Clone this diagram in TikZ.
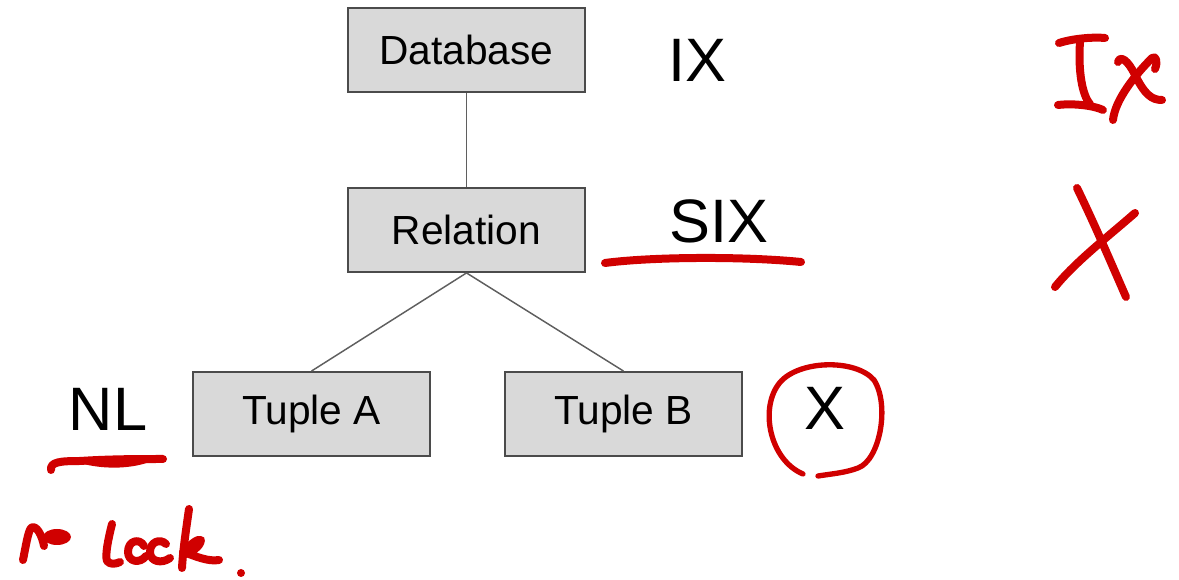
\documentclass[tikz,border=0pt]{standalone}
\usepackage{fontspec}
\setmainfont{Liberation Sans}
\begin{document}
\begin{tikzpicture}[x=0.75pt,y=-0.75pt,
  boxnode/.style={draw=boxline, fill=boxfill, line width=1.4pt,
    minimum width=177.75pt, minimum height=63pt, inner sep=0pt,
    font=\fontsize{30.5}{34}\selectfont},
  lockmode/.style={inner sep=0pt, font=\fontsize{46}{50}\selectfont},
  edge/.style={draw=edgeline, line width=1.1pt},
  ink/.style={draw=inkred, line width=6pt, line cap=round, line join=round},
  thinink/.style={draw=inkred, line width=4pt, line cap=round, line join=round}]
\definecolor{boxfill}{RGB}{217,217,217}
\definecolor{boxline}{RGB}{75,75,75}
\definecolor{edgeline}{RGB}{95,95,95}
\definecolor{inkred}{RGB}{208,0,0}
\useasboundingbox (0,0) rectangle (1179,580);

% hierarchy of lockable objects
\node[boxnode] (db)  at (466.5,50)  {Database};
\node[boxnode] (rel) at (466.5,230) {Relation};
\node[boxnode] (ta)  at (311.5,414) {Tuple A};
\node[boxnode] (tb)  at (623.5,414) {Tuple B};

\draw[edge] (db.south) -- (rel.north);
\draw[edge] (rel.south) -- (ta.north);
\draw[edge] (rel.south) -- (tb.north);

% lock modes held at each level
\node[lockmode] (ix)  at (697,60)  {IX};
\node[lockmode] (six) at (719,221) {SIX};
\node[lockmode] (nl)  at (108,409) {NL};
\node[lockmode] (x)   at (825,408) {X};

% handwritten marks
\draw[ink] (605,263) .. controls (650,257) and (740,256) .. (801,262);
\draw[ink] (51,470) .. controls (50,462) and (60,461) .. (80,461)
  .. controls (110,459) and (140,459) .. (163,459);
\fill[inkred] (80,459) .. controls (110,455) and (140,455) .. (152,461)
  .. controls (130,470) and (100,469) .. (80,463) -- cycle;
\draw[thinink] (803,474) .. controls (770,460) and (760,410) .. (778,385)
  .. controls (795,360) and (855,358) .. (874,380)
  .. controls (890,405) and (880,460) .. (858,468)
  .. controls (845,473) and (830,474) .. (818,476);

% "Ix"
\draw[ink] (1059,43) .. controls (1075,38) and (1095,37) .. (1105,38);
\draw[ink] (1080,42) .. controls (1078,70) and (1082,95) .. (1090,104);
\draw[ink] (1058,105) .. controls (1075,103) and (1095,106) .. (1103,110);
\draw[ink] (1118,62) .. controls (1120,55) and (1128,60) .. (1135,75)
  .. controls (1145,95) and (1152,100) .. (1162,100);
\draw[ink] (1155,69) .. controls (1158,62) and (1156,55) .. (1152,58)
  .. controls (1135,75) and (1115,100) .. (1113,120);

% "X"
\draw[ink] (1077,188) .. controls (1095,225) and (1112,265) .. (1126,297);
\draw[ink] (1135,213) .. controls (1110,235) and (1075,262) .. (1055,287);

% "no lock."
\draw[ink] (23,560) .. controls (26,545) and (28,532) .. (31,528)
  .. controls (36,524) and (42,535) .. (44,546);
\fill[inkred] (57,537) ellipse [x radius=14, y radius=8];
\draw[ink] (112,524) .. controls (108,540) and (105,555) .. (107,561)
  .. controls (110,565) and (116,564) .. (120,562);
\draw[ink] (144,546) .. controls (140,538) and (128,540) .. (128,552)
  .. controls (128,562) and (140,564) .. (146,556);
\draw[ink] (166,544) .. controls (160,538) and (150,542) .. (150,552)
  .. controls (150,562) and (162,564) .. (170,558);
\draw[ink] (189,509) .. controls (186,530) and (183,550) .. (182,568);
\draw[ink] (183,552) .. controls (190,545) and (198,538) .. (201,540)
  .. controls (200,548) and (190,552) .. (186,553)
  .. controls (195,556) and (208,562) .. (219,560);
\fill[inkred] (241,573) circle (4);
\end{tikzpicture}
\end{document}
